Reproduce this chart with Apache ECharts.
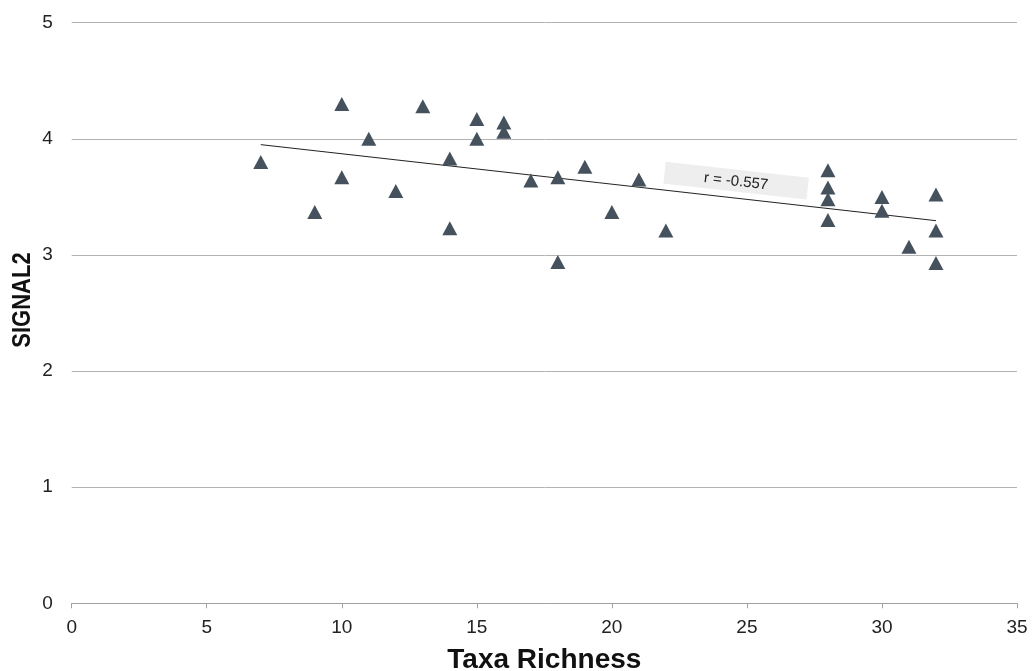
<!DOCTYPE html>
<html>
<head>
<meta charset="utf-8">
<script src="https://cdn.jsdelivr.net/npm/echarts@6/dist/echarts.min.js"></script>
<style>
  html, body { margin: 0; padding: 0; background: #fff; }
  #chart { width: 1033px; height: 671px; }
</style>
</head>
<body>
<div id="chart"></div>
<script>
// Taxa richness per site
const taxaRichness = [7, 9, 10, 10, 11, 12, 13, 14, 14, 15, 15, 16, 16, 17, 18, 18, 19, 20, 21, 22,
                      28, 28, 28, 28, 30, 30, 31, 32, 32, 32];
// SIGNAL2 score per site
const signal2 = [3.80, 3.37, 4.30, 3.67, 4.00, 3.55, 4.28, 3.83, 3.23, 4.17, 4.00, 4.14, 4.06, 3.64, 3.67, 2.94, 3.76, 3.37, 3.65, 3.21,
                 3.73, 3.58, 3.48, 3.30, 3.50, 3.38, 3.07, 3.52, 3.21, 2.93];
// Fitted trend line end points
const trendX = [7, 32];
const trendY = [3.95, 3.295];
const corrText = 'r = -0.557';
const corrAnchor = [24.6, 3.64];
const xTitle = 'Taxa Richness';
const yTitle = 'SIGNAL2';

const font = '"Liberation Sans", Arial, sans-serif';
const points = taxaRichness.map((x, i) => [x, signal2[i]]);
const trend = trendX.map((x, i) => [x, trendY[i]]);

const chart = echarts.init(document.getElementById('chart'));
chart.setOption({
  animation: false,
  backgroundColor: '#ffffff',
  grid: { left: 71.7, right: 16, top: 22.7, bottom: 67.7, containLabel: false, outerBoundsMode: 'none' },
  xAxis: {
    type: 'value', min: 0, max: 35, interval: 5,
    name: xTitle, nameLocation: 'middle', nameGap: 43,
    nameTextStyle: { fontFamily: font, fontSize: 28, fontWeight: 'bold', color: '#111' },
    axisLine: { show: true, lineStyle: { color: '#a0a0a0', width: 1 } },
    axisTick: { show: true, length: 5, lineStyle: { color: '#a0a0a0' } },
    axisLabel: { fontFamily: font, fontSize: 19, color: '#222', margin: 15 },
    splitLine: { show: false }
  },
  yAxis: {
    type: 'value', min: 0, max: 5, interval: 1,
    axisLine: { show: false },
    axisTick: { show: false },
    axisLabel: { fontFamily: font, fontSize: 19, color: '#222', margin: 19 },
    splitLine: { show: true, lineStyle: { color: '#b3b3b3', width: 1 } }
  },
  series: [
    {
      type: 'line', data: trend, symbol: 'none', silent: true, z: 3,
      lineStyle: { color: '#222', width: 1 }
    },
    {
      type: 'scatter', data: points, symbol: 'triangle', symbolSize: [15, 14], z: 4,
      itemStyle: { color: '#45525d', opacity: 1 }
    }
  ]
});

// Correlation label, tilted along the trend line
const p = chart.convertToPixel({ gridIndex: 0 }, corrAnchor);
const p0 = chart.convertToPixel({ gridIndex: 0 }, trend[0]);
const p1 = chart.convertToPixel({ gridIndex: 0 }, trend[1]);
const angle = -Math.atan2(p1[1] - p0[1], p1[0] - p0[0]);
chart.setOption({
  graphic: [
    {
      type: 'group', x: p[0], y: p[1], rotation: angle, z: 10,
      children: [
        { type: 'rect', shape: { x: -72, y: -11, width: 144, height: 22 }, style: { fill: '#eeeeee' } },
        { type: 'text', style: { text: corrText, x: 0, y: 1, align: 'center', verticalAlign: 'middle',
          font: '15px ' + font, fill: '#222' } }
      ]
    },
    {
      // vertical axis title, set in a heavy wide weight
      type: 'text', x: 23, y: 300, rotation: Math.PI / 2, scaleY: 1.18, z: 10,
      style: { text: yTitle, align: 'center', verticalAlign: 'middle',
        font: 'bold 22px ' + font, fill: '#111' }
    }
  ]
});
</script>
</body>
</html>
